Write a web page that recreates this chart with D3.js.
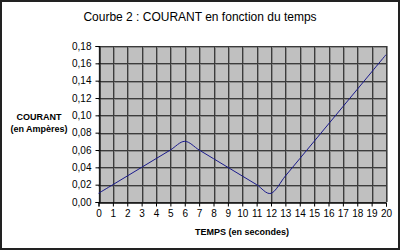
<!DOCTYPE html>
<html>
<head>
<meta charset="utf-8">
<script src="https://cdn.jsdelivr.net/npm/d3@7"></script>
<style>
  body { margin: 0; background: #fff; }
  svg { display: block; font-family: "Liberation Sans", Arial, sans-serif; }
</style>
</head>
<body>
<div id="chart"></div>
<script>
// data
const temps = [0, 1, 2, 3, 4, 5, 6, 7, 8, 9, 10, 11, 12, 13, 14, 15, 16, 17, 18, 19, 20]
const courant = [0.01, 0.02, 0.03, 0.04, 0.05, 0.06, 0.07, 0.06, 0.05, 0.04, 0.03, 0.02, 0.01,
                 0.03, 0.05, 0.07, 0.09, 0.11, 0.13, 0.15, 0.17]
const yTicks = [0, 0.02, 0.04, 0.06, 0.08, 0.10, 0.12, 0.14, 0.16, 0.18]
const titre = "Courbe 2 : COURANT en fonction du temps"
const titreX = "TEMPS (en secondes)"
const titreY = ["COURANT", "(en Ampères)"]

// const
const width = 400
const height = 250
const margin = { top: 46, bottom: 48, left: 98.5, right: 14 }

const svg = d3.select("#chart")
  .append("svg")
    .attr("width", width)
    .attr("height", height)

// outer frame
svg.append("rect")
  .attr("x", 1).attr("y", 1)
  .attr("width", width - 2).attr("height", height - 2)
  .attr("fill", "#fff")
  .attr("stroke", "#222")
  .attr("stroke-width", 2)

const x = d3.scaleLinear()
  .domain([0, 20])
  .range([margin.left, width - margin.right])

const y = d3.scaleLinear()
  .domain([0, 0.18])
  .range([height - margin.bottom, margin.top])

// plot area
svg.append("rect")
  .attr("x", x(0)).attr("y", y(0.18))
  .attr("width", x(20) - x(0)).attr("height", y(0) - y(0.18))
  .attr("fill", "#c0c0c0")

// grid (dark line + softer shade next to it)
const grid = svg.append("g").attr("id", "grid")
grid.selectAll(".vs").data(temps).join("line")
  .attr("x1", d => Math.round(x(d)) + 1.5).attr("x2", d => Math.round(x(d)) + 1.5)
  .attr("y1", y(0.18)).attr("y2", y(0))
  .attr("stroke", "#8c8c8c")
grid.selectAll(".hs").data(yTicks).join("line")
  .attr("x1", x(0)).attr("x2", x(20))
  .attr("y1", d => Math.round(y(d)) + 1.5).attr("y2", d => Math.round(y(d)) + 1.5)
  .attr("stroke", "#8c8c8c")
grid.selectAll(".v").data(temps).join("line")
  .attr("x1", d => Math.round(x(d)) + 0.5).attr("x2", d => Math.round(x(d)) + 0.5)
  .attr("y1", y(0.18)).attr("y2", y(0))
  .attr("stroke", "#3c3c3c")
grid.selectAll(".h").data(yTicks).join("line")
  .attr("x1", x(0)).attr("x2", x(20))
  .attr("y1", d => Math.round(y(d)) + 0.5).attr("y2", d => Math.round(y(d)) + 0.5)
  .attr("stroke", "#3c3c3c")

// axes
const fmt = d => d3.format(".2f")(d).replace(".", ",")
const xAxis = d3.axisBottom(x).tickValues(temps).tickSize(4).tickPadding(3).tickFormat(d3.format("d"))
const yAxis = d3.axisLeft(y).tickValues(yTicks).tickSize(4).tickPadding(4).tickFormat(fmt)

const xAxisGroup = svg.append("g")
  .attr("transform", `translate(0, ${Math.round(y(0)) + 0.5})`)
  .call(xAxis)
const yAxisGroup = svg.append("g")
  .attr("transform", `translate(${Math.round(x(0)) + 0.5}, 0)`)
  .call(yAxis)

for (const g of [xAxisGroup, yAxisGroup]) {
  g.select(".domain").attr("stroke", "#000")
  g.selectAll(".tick line").attr("stroke", "#000")
  g.selectAll(".tick text").attr("fill", "#000").attr("font-size", 10)
    .attr("font-family", "'Liberation Sans', Arial, sans-serif")
}

// line
const data = temps.map((t, i) => ({ t: t, c: courant[i] }))
svg.append("path")
  .datum(data)
  .attr("fill", "none")
  .attr("stroke", "#1a1a8c")
  .attr("stroke-width", 1)
  .attr("d", d3.line()
    .x(d => x(d.t))
    .y(d => y(d.c))
    .curve(d3.curveCardinal.tension(0)))

// titles
svg.append("text")
  .attr("x", 200).attr("y", 21)
  .attr("text-anchor", "middle")
  .attr("font-size", 12)
  .text(titre)

svg.append("text")
  .attr("x", 242).attr("y", 235)
  .attr("text-anchor", "middle")
  .attr("font-size", 9).attr("font-weight", "bold")
  .text(titreX)

svg.selectAll(".ytitle").data(titreY).join("text")
  .attr("x", 39)
  .attr("y", (d, i) => 120 + i * 12)
  .attr("text-anchor", "middle")
  .attr("font-size", 9).attr("font-weight", "bold")
  .text(d => d)
</script>
</body>
</html>
